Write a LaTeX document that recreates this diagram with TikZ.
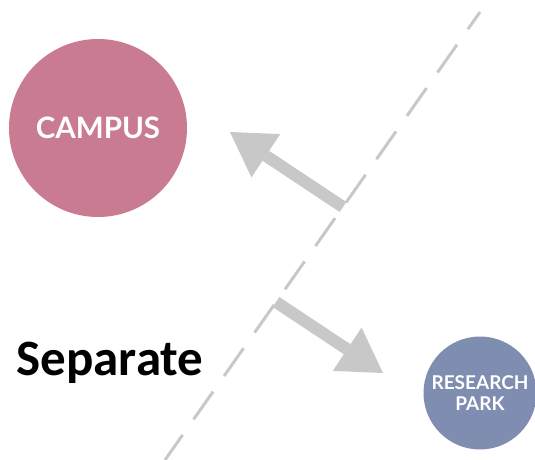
\documentclass[tikz,border=0pt]{standalone}
\usepackage{fontspec}
\setmainfont{Carlito}
\newfontfamily\circfont{Lato}
\usetikzlibrary{arrows.meta}
\definecolor{campuspink}{RGB}{200,123,145}
\definecolor{parkblue}{RGB}{126,141,176}
\definecolor{arrowgrey}{RGB}{200,200,200}

\begin{document}
\begin{tikzpicture}[x=1pt,y=-1pt,
    place/.style={circle,inner sep=0pt,text=white,align=center},
    move/.style={arrowgrey,line width=12pt,-{Triangle[length=43pt,width=52pt,line width=0pt]}},
    border/.style={arrowgrey,line width=3pt,dash pattern=on 34pt off 19pt,dash phase=13pt}]
    \useasboundingbox (0,0) rectangle (535,460);
    % the two places
    \node[place,fill=campuspink,minimum size=178pt,font=\circfont\bfseries\fontsize{29.5}{32}\selectfont] (campus) at (98,128) {CAMPUS};
    \node[place,fill=parkblue,minimum size=113pt,font=\circfont\bfseries\fontsize{19}{21}\selectfont] (park) at (480,393) {RESEARCH\\PARK};
    % dividing line
    \coordinate (lineTop) at (480,12);
    \coordinate (lineBottom) at (165,460);
    \draw[border] (lineTop) -- (lineBottom);
    % pushed apart
    \coordinate (pushUp) at (343,207);
    \coordinate (toCampus) at (230,132);
    \coordinate (pushDown) at (276,302);
    \coordinate (toPark) at (383,373);
    \draw[move] (pushUp) -- (toCampus);
    \draw[move] (pushDown) -- (toPark);
    \node[anchor=base,font=\bfseries\fontsize{51}{51}\selectfont] (title) at (110,375) {Separate};
\end{tikzpicture}
\end{document}
